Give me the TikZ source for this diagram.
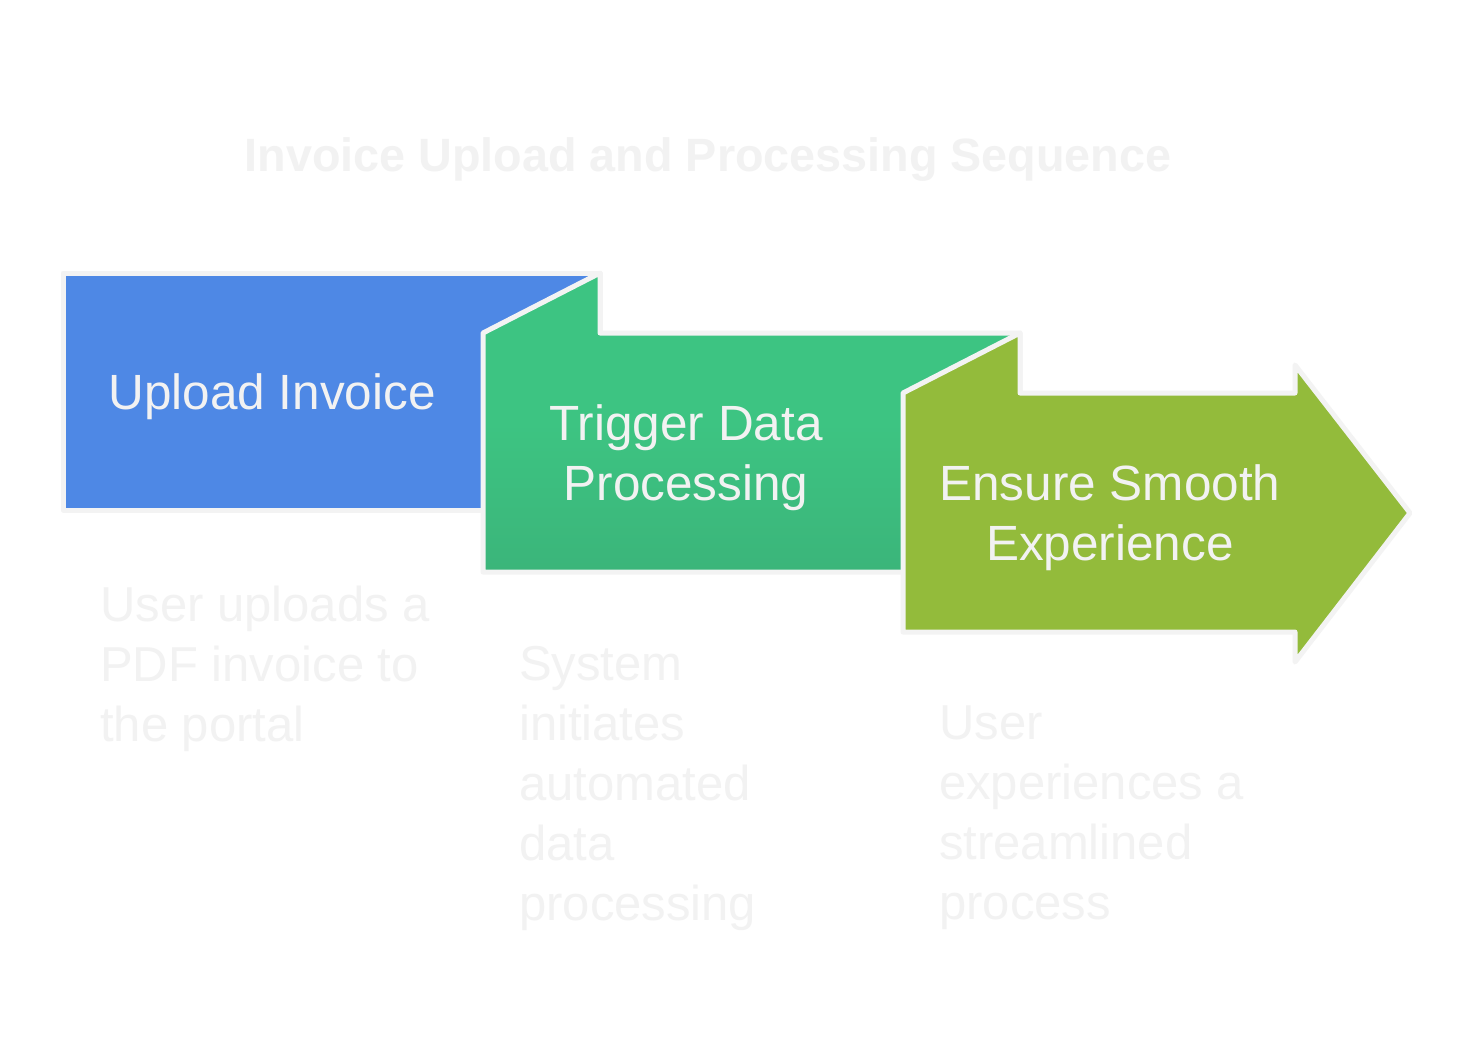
\documentclass[tikz,border=0pt]{standalone}
\usepackage{fontspec}
\setmainfont{Liberation Sans}
\usetikzlibrary{positioning}
\definecolor{uplblue}{HTML}{4E88E5}
\definecolor{trggreen}{HTML}{3DC482}
\definecolor{trggreendk}{HTML}{3BB57A}
\definecolor{ensolive}{HTML}{93BB3B}
\definecolor{edgegray}{HTML}{F3F3F3}
\definecolor{faint}{HTML}{F2F2F2}
\tikzstyle{panel} = [draw=edgegray, line width=5pt, line join=round]
\tikzstyle{boxtxt} = [text=faint, align=center, inner sep=0pt, font=\fontsize{49.5}{60}\selectfont]
\tikzstyle{notetxt} = [text=faint, align=left, anchor=north west, inner sep=0pt, font=\fontsize{49}{60}\selectfont]

\begin{document}
\begin{tikzpicture}[x=1pt, y=-1pt]
  \useasboundingbox [fill=white] (0,0) rectangle (1476,1055);
  % Title
  \node [text=faint, anchor=base, inner sep=0pt, font=\bfseries\fontsize{46.7}{60}\selectfont] (title) at (708,171) {Invoice Upload and Processing Sequence};

  % Panels
  \path [panel, fill=uplblue] (63,273) rectangle (600,510);
  \path [panel, top color=trggreen, bottom color=trggreendk, middle color=trggreen]
    (483,333) -- (600,273) -- (600,333) -- (1020,333) -- (1020,572) -- (483,572) -- cycle;
  \path [panel, fill=ensolive]
    (903,393) -- (1020,333) -- (1020,393) -- (1295,393) -- (1295,365) -- (1410,513)
    -- (1295,662) -- (1295,632) -- (903,632) -- cycle;

  % Nodes
  \node [boxtxt] (upl) at (272,397) {Upload Invoice};
  \node [boxtxt] (trg) at (686,458) {Trigger Data\\Processing};
  \node [boxtxt] (ens) at (1110,518) {Ensure Smooth\\Experience};

  % Annotations
  \node [notetxt] (uplan) at (100,586) {User uploads a\\PDF invoice to\\the portal};
  \node [notetxt] (trgan) at (519,646) {System\\initiates\\automated\\data\\processing};
  \node [notetxt] (ensan) at (939,706) {User\\experiences a\\streamlined\\process};
\end{tikzpicture}
\end{document}
